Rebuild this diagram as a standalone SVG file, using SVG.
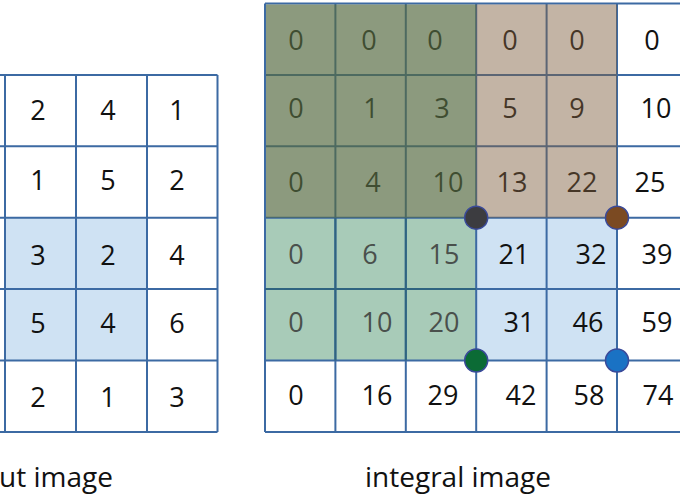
<svg xmlns="http://www.w3.org/2000/svg" width="680" height="500" viewBox="0 0 680 500">
<style>
.ln{stroke:#3c6aa3;stroke-width:2;fill:none}
.d{font-family:"Open Sans","Noto Sans",sans-serif;font-size:27px;fill:#111;text-anchor:middle}
.g{fill:#4a504c}
.lb{font-family:"Open Sans","Noto Sans",sans-serif;font-size:28px;fill:#111}
.dot{stroke:#3a4a9a;stroke-width:1.5}
</style>
<rect width="680" height="500" fill="#fff"/>
<g id="input-image">
<rect x="5" y="217.7" width="142" height="142.8" fill="#cfe2f3"/>
<g class="ln">
<path d="M-70 74.9H217.5M-70 146.3H217.5M-70 217.7H217.5M-70 289.1H217.5M-70 360.5H217.5M-70 431.9H217.5"/>
<path d="M5 74.9V431.9M76 74.9V431.9M147 74.9V431.9M217.5 74.9V431.9"/>
</g>
<g class="d">
<text x="38" y="120">2</text><text x="108" y="120">4</text><text x="177" y="120">1</text>
<text x="38" y="190">1</text><text x="108" y="190">5</text><text x="177" y="190">2</text>
<text x="38" y="265">3</text><text x="108" y="265">2</text><text x="177" y="265">4</text>
<text x="38" y="333">5</text><text x="108" y="333">4</text><text x="177" y="333">6</text>
<text x="38" y="407">2</text><text x="108" y="407">1</text><text x="177" y="407">3</text>
</g>
<text class="lb" x="-1" y="487">ut image</text>
</g>
<g id="integral-image">
<rect x="476.2" y="217.7" width="140.8" height="142.8" fill="#cfe2f3"/>
<rect x="265" y="217.7" width="211.2" height="142.8" fill="#a8cbb8"/>
<g class="ln">
<path d="M265 3.5H720M265 74.9H720M265 146.3H720M265 217.7H720M265 289.1H720M265 360.5H720M265 431.9H720"/>
<path d="M265 3.5V431.9M335.4 3.5V431.9M405.8 3.5V431.9M476.2 3.5V431.9M546.6 3.5V431.9M617 3.5V431.9M687.4 3.5V431.9"/>
</g>
<path d="M265 289.1H476.2M335.4 217.7V360.5M405.8 217.7V360.5" stroke="#2f6480" stroke-width="2" fill="none"/>
<g class="d">
<text x="296" y="50">0</text><text x="369" y="50">0</text><text x="435" y="50">0</text><text x="510" y="50">0</text><text x="577" y="50">0</text><text x="652" y="50">0</text>
<text x="296" y="118">0</text><text x="371" y="118">1</text><text x="442" y="118">3</text><text x="510" y="118">5</text><text x="577" y="118">9</text><text x="656" y="118">10</text>
<text x="296" y="192">0</text><text x="373" y="192">4</text><text x="448" y="192">10</text><text x="512" y="192">13</text><text x="582" y="192">22</text><text x="650" y="192">25</text>
<text class="g" x="296" y="264">0</text><text class="g" x="370" y="264">6</text><text class="g" x="444" y="264">15</text><text x="514" y="264">21</text><text x="591" y="264">32</text><text x="657" y="264">39</text>
<text class="g" x="296" y="332">0</text><text class="g" x="377" y="332">10</text><text class="g" x="444" y="332">20</text><text x="519" y="332">31</text><text x="588" y="332">46</text><text x="657" y="332">59</text>
<text x="296" y="405">0</text><text x="377" y="405">16</text><text x="443" y="405">29</text><text x="521" y="405">42</text><text x="589" y="405">58</text><text x="658" y="405">74</text>
</g>
<rect x="266" y="4.5" width="210.2" height="213.2" fill="rgb(86,106,65)" fill-opacity="0.68"/>
<rect x="476.2" y="4.5" width="140.8" height="213.2" fill="rgb(128,96,64)" fill-opacity="0.47"/>
<text class="lb" x="458" y="487" text-anchor="middle">integral image</text>
</g>
<g id="corners">
<circle class="dot" cx="476.2" cy="217.7" r="11.5" fill="#3c3c40"/>
<circle class="dot" cx="617" cy="217.7" r="11.5" fill="#7b4a22"/>
<circle class="dot" cx="476.2" cy="360.5" r="11.5" fill="#0b6b35"/>
<circle class="dot" cx="617" cy="360.5" r="11.5" fill="#1a72c4"/>
</g>
</svg>
